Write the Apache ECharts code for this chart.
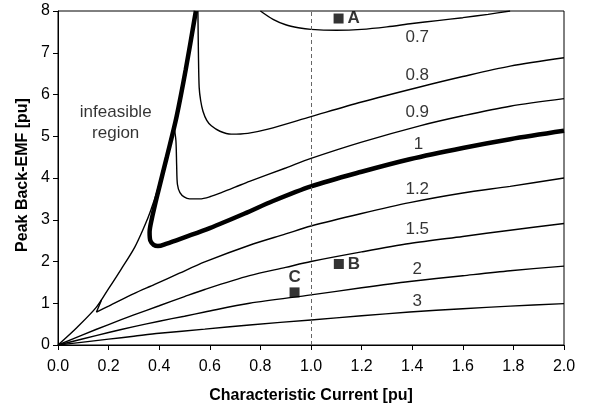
<!DOCTYPE html>
<html>
<head>
<meta charset="utf-8">
<script src="https://cdn.jsdelivr.net/npm/echarts@6/dist/echarts.min.js"></script>
<style>
  html, body { margin: 0; padding: 0; background: #fff; }
  #chart { width: 590px; height: 409px; }
</style>
</head>
<body>
<div id="chart"></div>
<script>
// Axis ranges and ticks
const xTicks = [0, 2, 0.2];
const yTicks = [0, 8, 1];

// Edge of the feasible region (thin line from the origin)
const boundary = [[0,0],[0.075,0.42],[0.151,0.90],[0.2,1.35],[0.25,1.82],[0.303,2.34],[0.342,2.85],[0.365,3.2],[0.395,3.75],[0.43,4.5],[0.468,5.4],[0.505,6.55],[0.545,8]];

// Constant-ratio curves, [characteristic current, peak back-EMF]
const curve07 = [[0.8,8.0],[0.85,7.8],[0.9,7.67],[0.95,7.6],[1.0,7.56],[1.1,7.54],[1.2,7.56],[1.3,7.62],[1.4,7.7],[1.5,7.77],[1.6,7.84],[1.7,7.92],[1.787,8.0]];
const curve08 = [[0.553,8],[0.555,7.0],[0.558,6.17],[0.564,5.85],[0.573,5.6],[0.588,5.38],[0.606,5.25],[0.64,5.12],[0.685,5.05],[0.75,5.07],[0.83,5.17],[1.0,5.47],[1.2,5.82],[1.43,6.18],[1.6,6.43],[1.787,6.68],[2,6.88]];
const curve09 = [[0.458,5.25],[0.466,4.9],[0.469,4.3],[0.472,3.85],[0.482,3.65],[0.5,3.54],[0.52,3.5],[0.56,3.5],[0.6,3.55],[0.65,3.66],[0.7,3.78],[0.757,3.92],[0.9,4.24],[1.0,4.47],[1.2,4.86],[1.43,5.25],[1.6,5.49],[1.787,5.72],[2,5.9]];
const curve10 = [[0.545,8],[0.505,6.6],[0.468,5.45],[0.43,4.5],[0.395,3.65],[0.37,3.0],[0.362,2.7],[0.365,2.5],[0.378,2.4],[0.395,2.37],[0.43,2.43],[0.5,2.58],[0.6,2.8],[0.738,3.15],[0.85,3.45],[1.0,3.8],[1.2,4.15],[1.39,4.45],[1.6,4.72],[1.787,4.93],[2,5.13]];
const curve12 = [[0.172,1.08],[0.152,0.79],[0.2,0.93],[0.3,1.23],[0.382,1.45],[0.48,1.72],[0.58,1.99],[0.757,2.39],[0.9,2.66],[1.0,2.85],[1.2,3.15],[1.39,3.41],[1.6,3.64],[1.787,3.8],[2,4.0]];
const curve15 = [[0,0],[0.1,0.25],[0.2,0.49],[0.3,0.72],[0.4,0.94],[0.5,1.16],[0.58,1.33],[0.757,1.66],[0.9,1.86],[1.0,2.0],[1.2,2.23],[1.39,2.43],[1.6,2.6],[1.787,2.75],[2,2.91]];
const curve20 = [[0,0],[0.1,0.15],[0.2,0.3],[0.3,0.44],[0.4,0.57],[0.5,0.69],[0.58,0.79],[0.757,1.0],[1.0,1.2],[1.2,1.37],[1.39,1.52],[1.6,1.66],[1.787,1.78],[2,1.89]];
const curve30 = [[0,0],[0.1,0.07],[0.2,0.14],[0.3,0.21],[0.4,0.28],[0.58,0.38],[0.757,0.48],[1.0,0.6],[1.2,0.7],[1.39,0.79],[1.6,0.87],[1.787,0.93],[2,0.99]];

// Curve labels and their anchor points
const curveLabels = ['0.7','0.8','0.9','1','1.2','1.5','2','3'];
const curveLabelAt = [[1.42,7.37],[1.42,6.46],[1.42,5.57],[1.425,4.81],[1.42,3.73],[1.42,2.78],[1.42,1.82],[1.42,1.04]];

// Operating points
const pointNames = ['A','B','C'];
const pointValues = [[1.109,7.82],[1.11,1.94],[0.935,1.26]];

// Reference current and region caption
const refCurrent = 1.0;
const regionText = 'infeasible\nregion';
const regionAt = [0.228, 5.33];

const font = 'Arial, "Liberation Sans", Helvetica, sans-serif';

function thin(data) {
  return {
    type: 'line', data: data, showSymbol: false, symbol: 'none', smooth: 0.3,
    lineStyle: { color: '#000', width: 1.4 }, silent: true, z: 3
  };
}

const series = [
  thin(boundary),
  thin(curve07),
  thin(curve08),
  thin(curve09),
  {
    type: 'line', data: curve10, showSymbol: false, symbol: 'none', smooth: 0.3,
    lineStyle: { color: '#000', width: 4.5 }, silent: true, z: 4
  },
  thin(curve12),
  thin(curve15),
  thin(curve20),
  thin(curve30),
  {
    // dashed reference line at the characteristic current of 1 pu
    type: 'line', data: [], silent: true,
    markLine: {
      symbol: 'none', silent: true, label: { show: false },
      lineStyle: { color: '#666', type: [4, 3], width: 1 },
      data: [{ xAxis: refCurrent }]
    }
  },
  {
    type: 'scatter', symbolSize: 0, silent: true, z: 5,
    data: curveLabelAt.map((p, i) => ({ value: p, name: curveLabels[i] })),
    label: {
      show: true, position: 'inside', formatter: '{b}',
      color: '#000', fontSize: 17, fontFamily: font
    }
  },
  {
    type: 'scatter', symbolSize: 0, silent: true, z: 5,
    data: [{ value: regionAt, name: regionText }],
    label: {
      show: true, position: 'inside', formatter: '{b}', align: 'center',
      color: '#000', fontSize: 17, lineHeight: 21, fontFamily: font
    }
  },
  {
    type: 'scatter', symbol: 'rect', symbolSize: 10, silent: true, z: 6,
    itemStyle: { color: '#000' },
    data: pointValues.map((p, i) => ({
      value: p, name: pointNames[i],
      label: i === 2 ? { position: 'top', distance: 2 } : { position: 'right', distance: 4 }
    })),
    label: {
      show: true, formatter: '{b}', color: '#000', fontSize: 17,
      fontWeight: 'bold', fontFamily: font
    }
  }
];

const chart = echarts.init(document.getElementById('chart'), null, { renderer: 'canvas' });
chart.setOption({
  animation: false,
  backgroundColor: '#fff',
  grid: { left: 58, top: 11, width: 506, height: 335, show: true, borderColor: '#000', borderWidth: 1, backgroundColor: 'transparent' },
  xAxis: {
    type: 'value', min: xTicks[0], max: xTicks[1], interval: xTicks[2],
    axisLine: { onZero: false, lineStyle: { color: '#000', width: 1 } },
    axisTick: { show: true, length: 5, lineStyle: { color: '#000' } },
    axisLabel: { color: '#000', fontSize: 16, fontFamily: font, margin: 14, formatter: v => v.toFixed(1) },
    splitLine: { show: false },
    name: 'Characteristic Current [pu]', nameLocation: 'middle', nameGap: 43,
    nameTextStyle: { color: '#000', fontSize: 16, fontWeight: 'bold', fontFamily: font }
  },
  yAxis: {
    type: 'value', min: yTicks[0], max: yTicks[1], interval: yTicks[2],
    axisLine: { show: true, onZero: false, lineStyle: { color: '#000', width: 1 } },
    axisTick: { show: true, length: 5, lineStyle: { color: '#000' } },
    axisLabel: { color: '#000', fontSize: 16, fontFamily: font, margin: 8 },
    splitLine: { show: false },
    name: 'Peak Back-EMF [pu]', nameLocation: 'middle', nameGap: 27,
    nameTextStyle: { color: '#000', fontSize: 16, fontWeight: 'bold', fontFamily: font, padding: [0, 0, 0, 6] }
  },
  series: series
});
</script>
</body>
</html>
